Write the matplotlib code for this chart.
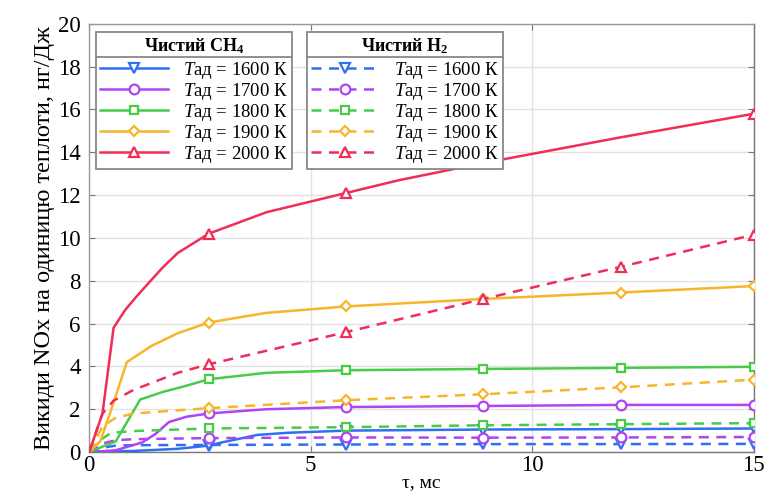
import matplotlib
matplotlib.use("Agg")
import matplotlib.pyplot as plt
from matplotlib.lines import Line2D
import numpy as np

plt.rcParams['font.family'] = ['Liberation Serif', 'DejaVu Serif']
plt.rcParams['mathtext.fontset'] = 'custom'
plt.rcParams['mathtext.rm'] = 'Liberation Serif'
plt.rcParams['mathtext.it'] = 'Liberation Serif:italic'
plt.rcParams['mathtext.bf'] = 'Liberation Serif:bold'

# ---- data ----
temps = [1600, 1700, 1800, 1900, 2000]
mark_x = [2.7, 5.8, 8.9, 12, 15]

ch4_x = {
    1600: [0, 1.0, 2.0, 2.7, 3.0, 3.8, 4.5, 5.8, 8.9, 12, 15],
    1700: [0, 0.6, 1.2, 1.5, 1.8, 2.2, 2.7, 4.0, 5.8, 8.9, 12, 15],
    1800: [0, 0.6, 1.15, 1.65, 2.2, 2.7, 4.0, 5.8, 8.9, 12, 15],
    1900: [0, 0.25, 0.5, 0.85, 1.4, 2.0, 2.7, 4.0, 5.8, 8.9, 12, 15],
    2000: [0, 0.3, 0.55, 0.8, 1.04, 1.3, 1.65, 2.0, 2.7, 4.0, 5.8, 7.0, 8.9, 12, 15],
}
ch4_y = {
    1600: [0, 0.05, 0.15, 0.3, 0.45, 0.8, 0.9, 1.0, 1.05, 1.07, 1.1],
    1700: [0, 0.08, 0.45, 0.85, 1.4, 1.65, 1.8, 2.0, 2.1, 2.15, 2.2, 2.2],
    1800: [0, 0.5, 2.45, 2.8, 3.1, 3.4, 3.7, 3.82, 3.88, 3.93, 3.98],
    1900: [0, 0.5, 2.0, 4.2, 4.95, 5.55, 6.05, 6.5, 6.8, 7.15, 7.45, 7.75],
    2000: [0, 1.8, 5.8, 6.6, 7.2, 7.8, 8.6, 9.3, 10.2, 11.2, 12.1, 12.7, 13.5, 14.7, 15.8],
}
h2_x = {
    1600: [0, 0.3, 0.6, 1.0, 2.7, 5.8, 8.9, 12, 15],
    1700: [0, 0.3, 0.6, 1.0, 2.7, 5.8, 8.9, 12, 15],
    1800: [0, 0.2, 0.5, 1.0, 2.7, 5.8, 8.9, 12, 15],
    1900: [0, 0.3, 0.6, 1.0, 2.7, 5.8, 8.9, 12, 15],
    2000: [0, 0.3, 0.55, 1.0, 2.0, 2.7, 5.8, 8.9, 12, 15],
}
h2_y = {
    1600: [0, 0.2, 0.3, 0.32, 0.33, 0.35, 0.37, 0.37, 0.38],
    1700: [0, 0.4, 0.55, 0.6, 0.65, 0.68, 0.67, 0.68, 0.7],
    1800: [0, 0.5, 0.9, 0.98, 1.1, 1.16, 1.25, 1.3, 1.35],
    1900: [0, 1.2, 1.6, 1.8, 2.05, 2.42, 2.7, 3.02, 3.38],
    2000: [0, 1.8, 2.4, 2.9, 3.7, 4.1, 5.6, 7.15, 8.65, 10.15],
}
# markers missing on the solid 2000 K curve at 12 ms
ch4_skip = {2000: [12]}

colors = {1600: '#2f6ff0', 1700: '#b044f2', 1800: '#48cc48', 1900: '#f8b52c', 2000: '#ef2d58'}
markers = {1600: 'v', 1700: 'o', 1800: 's', 1900: 'D', 2000: '^'}
msizes = {1600: 7, 1700: 7, 1800: 6, 1900: 5.5, 2000: 7}

fig = plt.figure(figsize=(7.69, 4.97), dpi=100)
ax = fig.add_axes([0.116, 0.0905, 0.864, 0.8615])


def idx(xs, skip=()):
    return [xs.index(m) for m in mark_x if m in xs and m not in skip]


ch4_handles, h2_handles, labels = [], [], []
for t in temps:
    c = colors[t]
    h1, = ax.plot(ch4_x[t], ch4_y[t], '-', color=c, lw=1.8,
                  marker=markers[t], ms=msizes[t], mfc='white', mec=c, mew=1.6,
                  markevery=idx(ch4_x[t], ch4_skip.get(t, [])), zorder=3)
    h2, = ax.plot(h2_x[t], h2_y[t], '--', color=c, lw=1.8, dashes=(4, 3),
                  marker=markers[t], ms=msizes[t], mfc='white', mec=c, mew=1.6,
                  markevery=idx(h2_x[t]), zorder=3)
    ch4_handles.append(h1)
    h2_handles.append(h2)
    labels.append(r'$T$ад = %d К' % t)

ax.set_xlim(0, 15)
ax.set_ylim(0, 20)
ax.set_xticks([0, 5, 10, 15])
ax.set_yticks(range(0, 21, 2))
ax.grid(True, color='#e2e2e2', lw=1)
ax.set_axisbelow(True)
ax.tick_params(direction='in', length=4, color='#777777', labelsize=16.5,
               top=True, right=True, pad=6)
ax.tick_params(axis='x', pad=2)
for s in ax.spines.values():
    s.set_color('#999999')
    s.set_linewidth(1.0)
ax.spines['right'].set_color('#777777')
ax.spines['bottom'].set_color('#777777')

ax.set_ylabel('Викиди NOx на одиницю теплоти, нг/Дж', fontsize=17.5, labelpad=2)
ax.set_xlabel('τ, мс', fontsize=14, labelpad=-1)

leg_kw = dict(loc='upper left', fontsize=13.5, handlelength=3.6, handletextpad=0.8,
              labelspacing=0.0, borderpad=0.22, frameon=True, fancybox=False,
              edgecolor='#888888', framealpha=1, borderaxespad=0)
leg1 = ax.legend(ch4_handles, labels, title=r'Чистий CH$_\mathbf{4}$',
                 bbox_to_anchor=(0.0105, 0.981), **leg_kw)
leg1.get_title().set_fontweight('bold')
leg1.get_title().set_fontsize(13)
ax.add_artist(leg1)
leg2 = ax.legend(h2_handles, labels, title=r'Чистий H$_\mathbf{2}$',
                 bbox_to_anchor=(0.328, 0.981), **leg_kw)
leg2.get_title().set_fontweight('bold')
leg2.get_title().set_fontsize(13)
for lg in (leg1, leg2):
    lg.get_frame().set_linewidth(1.3)
    lg._legend_box.sep = 3

fig.canvas.draw()
inv = fig.transFigure.inverted()
for lg in (leg1, leg2):
    fb = lg.get_frame().get_window_extent()
    tb = lg.get_title().get_window_extent()
    ysep = tb.y0 - 1
    (x0, y0) = inv.transform((fb.x0, ysep))
    (x1, _) = inv.transform((fb.x1, ysep))
    fig.add_artist(Line2D([x0, x1], [y0, y0], color='#888888', lw=1.3,
                          transform=fig.transFigure, zorder=10))

fig.savefig('out.png', dpi=100)
